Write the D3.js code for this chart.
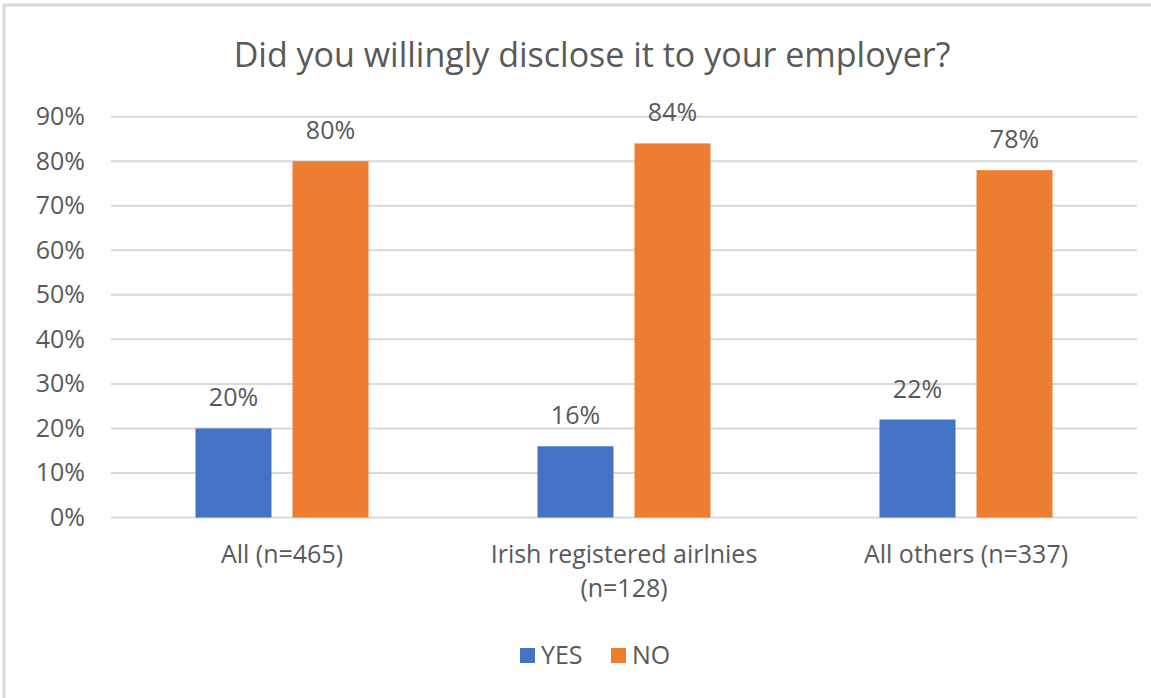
<!DOCTYPE html>
<html>
<head>
<meta charset="utf-8">
<script src="https://cdn.jsdelivr.net/npm/d3@7"></script>
<style>
  html, body { margin: 0; padding: 0; background: #fff; }
  svg { display: block; font-family: "Open Sans", "Noto Sans", sans-serif; }
</style>
</head>
<body>
<svg id="chart" width="1151" height="698"></svg>
<script>
// Survey answers by group
const categories = ["All (n=465)", "Irish registered airlnies (n=128)", "All others (n=337)"];
const categoryLines = [["All (n=465)"], ["Irish registered airlnies", "(n=128)"], ["All others (n=337)"]];
const seriesNames = ["YES", "NO"];
const yesValues = [0.20, 0.16, 0.22];
const noValues = [0.80, 0.84, 0.78];
const yTicks = [0, 0.1, 0.2, 0.3, 0.4, 0.5, 0.6, 0.7, 0.8, 0.9];
const colors = ["#4472C4", "#ED7D31"];
const titleText = "Did you willingly disclose it to your employer?";

const W = 1151, H = 698;
const svg = d3.select("#chart");
const textColor = "#595959";
const gridColor = "#D9D9D9";

// outer frame
svg.append("rect")
  .attr("x", 4).attr("y", 5)
  .attr("width", W + 20).attr("height", H + 20)
  .attr("fill", "none").attr("stroke", gridColor).attr("stroke-width", 3);

const plot = { left: 111, right: 1137, top: 116.7, bottom: 517.5 };

const y = d3.scaleLinear().domain([0, 0.9]).range([plot.bottom, plot.top]);
const x0 = d3.scaleBand().domain(categories).range([plot.left, plot.right]).padding(0);
const x1 = d3.scaleBand().domain(seriesNames).range([0, x0.bandwidth()])
  .paddingInner(0.2165).paddingOuter(0.871);

// title
svg.append("text")
  .attr("x", 592).attr("y", 67)
  .attr("text-anchor", "middle")
  .attr("fill", textColor)
  .style("font-size", "34px")
  .text(titleText);

// gridlines
svg.append("g")
  .selectAll("line")
  .data(yTicks)
  .join("line")
  .attr("x1", plot.left).attr("x2", plot.right)
  .attr("y1", d => y(d)).attr("y2", d => y(d))
  .attr("stroke", gridColor).attr("stroke-width", 2);

// y axis labels
const yAxis = svg.append("g")
  .attr("transform", `translate(${plot.left},0)`)
  .call(d3.axisLeft(y).tickValues(yTicks).tickFormat(d3.format(".0%")).tickSize(0).tickPadding(26));
yAxis.select(".domain").remove();
yAxis.selectAll("text")
  .attr("fill", textColor)
  .style("font-size", "25px")
  .style("font-family", '"Open Sans", "Noto Sans", sans-serif');

// bars
const rows = categories.map((c, i) => ({ cat: c, vals: [yesValues[i], noValues[i]] }));
const groups = svg.append("g").selectAll("g")
  .data(rows)
  .join("g")
  .attr("transform", d => `translate(${x0(d.cat)},0)`);

groups.selectAll("rect")
  .data(d => d.vals.map((v, j) => ({ key: seriesNames[j], v, j })))
  .join("rect")
  .attr("x", d => x1(d.key))
  .attr("width", x1.bandwidth())
  .attr("y", d => y(d.v))
  .attr("height", d => y(0) - y(d.v))
  .attr("fill", d => colors[d.j]);

// value labels
groups.selectAll("text.val")
  .data(d => d.vals.map((v, j) => ({ key: seriesNames[j], v, j })))
  .join("text")
  .attr("class", "val")
  .attr("x", d => x1(d.key) + x1.bandwidth() / 2)
  .attr("y", d => y(d.v) - 22)
  .attr("text-anchor", "middle")
  .attr("fill", textColor)
  .style("font-size", "25px")
  .text(d => d3.format(".0%")(d.v));

// category labels
const xAxis = svg.append("g")
  .attr("transform", `translate(0,${plot.bottom})`)
  .call(d3.axisBottom(x0).tickSize(0).tickFormat(() => ""));
xAxis.select(".domain").remove();
xAxis.selectAll(".tick text").remove();
xAxis.selectAll(".tick").each(function (d, i) {
  const t = d3.select(this).append("text")
    .attr("text-anchor", "middle")
    .attr("fill", textColor)
    .style("font-size", "25px")
    .style("font-family", '"Open Sans", "Noto Sans", sans-serif');
  categoryLines[i].forEach((line, k) => {
    t.append("tspan").attr("x", 0).attr("y", 45.5 + k * 34).text(line);
  });
});

// legend
const legend = svg.append("g");
const legendX = [520, 611];
seriesNames.forEach((s, j) => {
  legend.append("rect")
    .attr("x", legendX[j]).attr("y", 648)
    .attr("width", 15).attr("height", 15)
    .attr("fill", colors[j]);
  legend.append("text")
    .attr("x", legendX[j] + 21).attr("y", 664)
    .attr("fill", textColor)
    .style("font-size", "25px")
    .text(s);
});
</script>
</body>
</html>
